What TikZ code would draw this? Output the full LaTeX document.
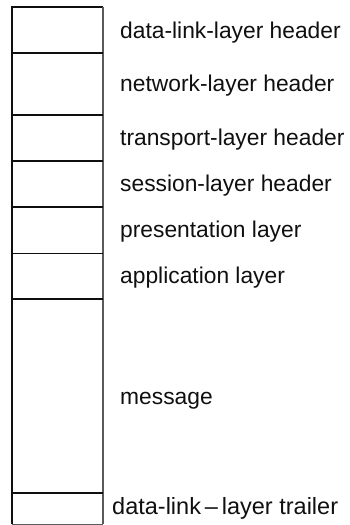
\documentclass[tikz,border=0pt]{standalone}
\usepackage{fontspec}
\setmainfont{Liberation Sans}
\usepackage{tikz}
\definecolor{ink}{RGB}{15, 15, 15}
\definecolor{edge}{RGB}{90, 90, 90}

\begin{document}
\begin{tikzpicture}[x=1pt, y=-1pt,
    lbl/.style={anchor=base west, inner sep=0pt, ink, font=\fontsize{22.8}{25}\selectfont},
    sep/.style={line width=2pt, ink}]
    \useasboundingbox (0,0) rectangle (349,525);

    % Frame of the packet
    \draw[line width=1.3pt, ink] (12,524) -- (12,7) -- (103,7);
    \draw[line width=1.5pt, edge] (103,7) -- (103,524);
    \draw[line width=0.8pt, edge] (12,524) -- (103,524);

    % Borders between the headers
    \draw[sep] (12,53) -- (103,53);
    \draw[sep] (12,115) -- (103,115);
    \draw[sep] (12,161) -- (103,161);
    \draw[sep] (12,207) -- (103,207);
    \draw[line width=1pt, ink] (12,253) -- (103,253);
    \draw[sep] (12,299) -- (103,299);
    \draw[sep] (12,493) -- (103,493);

    % Labels
    \node[lbl] (dlhead) at (120,38) {data-link-layer header};
    \node[lbl] (nethead) at (120,91) {network-layer header};
    \node[lbl] (trhead) at (120,145) {transport-layer header};
    \node[lbl] (sesshead) at (120,191) {session-layer header};
    \node[lbl] (pres) at (120,237) {presentation layer};
    \node[lbl] (appl) at (120,283) {application layer};
    \node[lbl] (msg) at (120,404) {message};
    \node[lbl, font=\fontsize{23.5}{25}\selectfont] (dltrail) at (112,514) {data-link\,--\,layer trailer};
\end{tikzpicture}
\end{document}
